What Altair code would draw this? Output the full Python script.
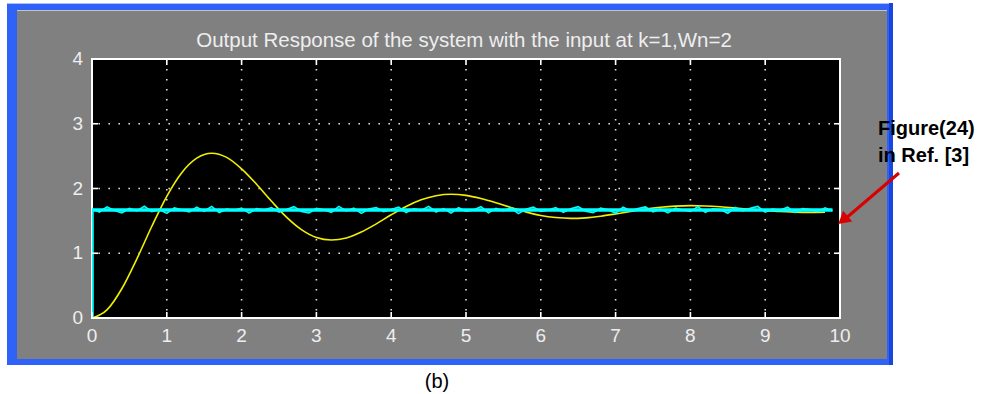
import altair as alt
import pandas as pd

# ---- data ----
yellow_t = [0.0, 0.2, 0.4, 0.6, 0.8, 1.0, 1.2, 1.4, 1.6, 1.8,
            2.0, 2.2, 2.4, 2.6, 2.8, 3.0, 3.2, 3.4, 3.6, 3.8,
            4.0, 4.2, 4.4, 4.6, 4.8, 5.0, 5.2, 5.4, 5.6, 5.8,
            6.0, 6.2, 6.4, 6.6, 6.8, 7.0, 7.2, 7.4, 7.6, 7.8,
            8.0, 8.2, 8.4, 8.6, 8.8, 9.0, 9.2, 9.4, 9.6, 9.8]
yellow_y = [0.000, 0.125, 0.456, 0.914, 1.417, 1.880, 2.244, 2.469, 2.545, 2.481,
            2.304, 2.066, 1.803, 1.558, 1.365, 1.244, 1.205, 1.237, 1.328, 1.454,
            1.594, 1.723, 1.825, 1.889, 1.911, 1.894, 1.845, 1.780, 1.707, 1.639,
            1.584, 1.551, 1.539, 1.547, 1.572, 1.607, 1.645, 1.682, 1.710, 1.728,
            1.735, 1.730, 1.717, 1.699, 1.679, 1.660, 1.644, 1.635, 1.631, 1.634]

cyan_level = 1.667
step_t = [0.0, 0.0, 9.9]
step_y = [0.0, 1.667, 1.667]
cyan_t = [0.0, 0.1, 0.2, 0.3, 0.4, 0.5, 0.6, 0.7, 0.8, 0.9,
          1.0, 1.1, 1.2, 1.3, 1.4, 1.5, 1.6, 1.7, 1.8, 1.9,
          2.0, 2.1, 2.2, 2.3, 2.4, 2.5, 2.6, 2.7, 2.8, 2.9,
          3.0, 3.1, 3.2, 3.3, 3.4, 3.5, 3.6, 3.7, 3.8, 3.9,
          4.0, 4.1, 4.2, 4.3, 4.4, 4.5, 4.6, 4.7, 4.8, 4.9,
          5.0, 5.1, 5.2, 5.3, 5.4, 5.5, 5.6, 5.7, 5.8, 5.9,
          6.0, 6.1, 6.2, 6.3, 6.4, 6.5, 6.6, 6.7, 6.8, 6.9,
          7.0, 7.1, 7.2, 7.3, 7.4, 7.5, 7.6, 7.7, 7.8, 7.9,
          8.0, 8.1, 8.2, 8.3, 8.4, 8.5, 8.6, 8.7, 8.8, 8.9,
          9.0, 9.1, 9.2, 9.3, 9.4, 9.5, 9.6, 9.7, 9.8, 9.9]
# jitter around the level, in thousandths
cyan_noise = [18, -30, 50, -8, -42, 27, -14, 58, -24, 9,
              -52, 33, 3, -27, 44, -18, 57, -39, 14, -5,
              30, -47, 21, 0, 39, -32, 8, 53, -21, -43,
              25, 5, -36, 56, -14, 30, -51, 16, 40, -25,
              8, 47, -39, 18, -5, 57, -30, 22, -47, 36,
              -17, 3, 52, -43, 27, -9, 34, -55, 12, 45,
              -22, 0, 39, -34, 21, 53, -18, -40, 30, 5,
              -49, 43, -12, 25, 49, -27, 14, -44, 31, 0,
              -21, 53, -36, 18, 8, -49, 40, -14, 27, 56,
              -31, 16, -3, 45, -39, 22, 9, -25, 34, -12]

x_ticks = [0, 1, 2, 3, 4, 5, 6, 7, 8, 9, 10]
y_ticks = [0, 1, 2, 3, 4]
x_grid = [1, 2, 3, 4, 5, 6, 7, 8, 9]
y_grid = [1, 2, 3]

title_text = "Output Response of the system with the input at k=1,Wn=2"
caption_text = "(b)"
note_line1 = "Figure(24)"
note_line2 = "in Ref. [3]"

# ---- layout ----
W, H = 748, 259
xs = alt.Scale(domain=[0, 10], nice=False, zero=False)
ys = alt.Scale(domain=[0, 4], nice=False, zero=False)
LABEL = "#eeeeee"
FONT = "Liberation Sans"

one = pd.DataFrame({"d": [0]})


def box(x, x2, y, y2, color):
    return alt.Chart(one).mark_rect(color=color).encode(
        x=alt.value(x), x2=alt.value(x2), y=alt.value(y), y2=alt.value(y2))


frame = [
    box(-85, 801, -56, 306, "#2f62f6"),
    box(-85, 801, -56, -55, "#a8c0ff"),
    box(797, 801, -56, 306, "#1a46e0"),
    box(-75, 795, -49, 300, "#808080"),
    box(-75, 795, -49, -48, "#c4c4c4"),
]

plot_bg = alt.Chart(one).mark_rect(fill="black", stroke="white", strokeWidth=2).encode(
    x=alt.value(0), x2=alt.value(W), y=alt.value(0), y2=alt.value(H))

grid_x = alt.Chart(pd.DataFrame({"x": x_grid})).mark_rule(
    color="#e0e0e0", strokeWidth=1.6, strokeDash=[1.6, 8.4]).encode(
    x=alt.X("x:Q", scale=xs, axis=None))
grid_y = alt.Chart(pd.DataFrame({"y": y_grid})).mark_rule(
    color="#e0e0e0", strokeWidth=1.6, strokeDash=[1.6, 8.4]).encode(
    y=alt.Y("y:Q", scale=ys, axis=None))

yellow = alt.Chart(pd.DataFrame({"t": yellow_t, "v": yellow_y})).mark_line(
    color="#f0f000", strokeWidth=1.6, interpolate="monotone", clip=True).encode(
    x=alt.X("t:Q", scale=xs, axis=None),
    y=alt.Y("v:Q", scale=ys, axis=None))

cyan_base = alt.Chart(pd.DataFrame({"t": step_t, "v": step_y, "o": [0, 1, 2]})).mark_line(
    color="#00ffff", strokeWidth=3.5, clip=True).encode(
    x=alt.X("t:Q", scale=xs, axis=None),
    y=alt.Y("v:Q", scale=ys, axis=None),
    order="o:Q")

cyan_df = pd.DataFrame({"t": cyan_t, "v": [cyan_level + n / 1000 for n in cyan_noise]})
cyan_noise_line = alt.Chart(cyan_df).mark_line(
    color="#00ffff", strokeWidth=1.6, clip=True).encode(
    x=alt.X("t:Q", scale=xs, axis=None),
    y=alt.Y("v:Q", scale=ys, axis=None))

tick_style = dict(color="white", strokeWidth=1.6)
xt = pd.DataFrame({"x": x_ticks})
yt = pd.DataFrame({"y": y_ticks})
ticks = [
    alt.Chart(xt).mark_rule(**tick_style).encode(
        x=alt.X("x:Q", scale=xs, axis=None), y=alt.value(H), y2=alt.value(H - 6)),
    alt.Chart(xt).mark_rule(**tick_style).encode(
        x=alt.X("x:Q", scale=xs, axis=None), y=alt.value(0), y2=alt.value(6)),
    alt.Chart(yt).mark_rule(**tick_style).encode(
        y=alt.Y("y:Q", scale=ys, axis=None), x=alt.value(0), x2=alt.value(6)),
    alt.Chart(yt).mark_rule(**tick_style).encode(
        y=alt.Y("y:Q", scale=ys, axis=None), x=alt.value(W), x2=alt.value(W - 6)),
]

x_labels = alt.Chart(xt).mark_text(
    font=FONT, fontSize=19, color=LABEL, align="center", baseline="top").encode(
    x=alt.X("x:Q", scale=xs, axis=None), y=alt.value(H + 9), text="x:N")
y_labels = alt.Chart(yt).mark_text(
    font=FONT, fontSize=19, color=LABEL, align="right", baseline="middle").encode(
    y=alt.Y("y:Q", scale=ys, axis=None), x=alt.value(-9), text="y:N")

title = alt.Chart(one).mark_text(
    text=title_text, font=FONT, fontSize=20.5, color=LABEL,
    align="center", baseline="alphabetic").encode(x=alt.value(372), y=alt.value(-12))

caption = alt.Chart(one).mark_text(
    text=caption_text, font=FONT, fontSize=20, color="black",
    align="center", baseline="alphabetic").encode(x=alt.value(345), y=alt.value(329))

note1 = alt.Chart(one).mark_text(
    text=note_line1, font=FONT, fontSize=20, fontWeight="bold", color="black",
    align="left", baseline="alphabetic").encode(x=alt.value(786), y=alt.value(76))
note2 = alt.Chart(one).mark_text(
    text=note_line2, font=FONT, fontSize=20, fontWeight="bold", color="black",
    align="left", baseline="alphabetic").encode(x=alt.value(786), y=alt.value(103))

arrow_line = alt.Chart(one).mark_rule(color="#d80000", strokeWidth=3).encode(
    x=alt.value(807), y=alt.value(114), x2=alt.value(753), y2=alt.value(160))
arrow_head = alt.Chart(one).mark_point(
    shape="triangle-up", size=200, filled=True, color="#d80000", opacity=1, angle=230).encode(
    x=alt.value(751), y=alt.value(161))

chart = alt.layer(
    *frame, plot_bg, grid_x, grid_y, yellow, cyan_base, cyan_noise_line, *ticks,
    x_labels, y_labels, title, caption, note1, note2, arrow_line, arrow_head
).properties(
    width=W, height=H,
    padding={"left": 92, "top": 59, "right": 142, "bottom": 76},
    autosize=alt.AutoSizeParams(type="none"),
    background="white",
).configure_view(strokeWidth=0)

chart.save("out.html", embed_options={"renderer": "svg", "actions": False})
